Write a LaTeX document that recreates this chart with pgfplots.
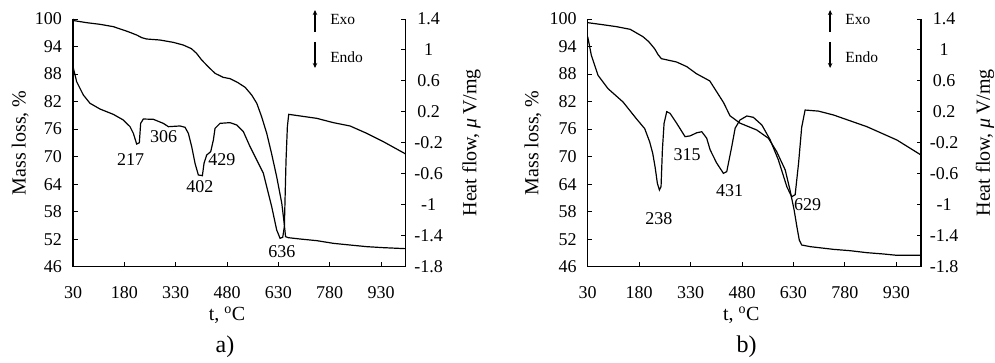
\documentclass[border=0pt]{standalone}
\usepackage{fontspec}
\setmainfont{Liberation Serif}
\usepackage{pgfplots}
\pgfplotsset{compat=1.18}
\usetikzlibrary{arrows.meta}
\tikzset{
  peak/.style={font=\fontsize{18}{20}\selectfont, inner sep=0pt},
  ee/.style={font=\fontsize{15.5}{18}\selectfont, inner sep=0pt, anchor=west},
  ar/.style={-{Stealth[length=5pt,width=4.5pt]}, line width=1.3pt, black},
  curve/.style={black, line width=1.2pt}
}
\begin{document}
\begin{tikzpicture}[x=1pt,y=1pt]
\useasboundingbox (0,0) rectangle (995,362);
\pgfplotsset{
  base/.style={scale only axis, height=247.7pt, xmin=30, xmax=1002, clip=false,
    tick align=inside, major tick length=4.5pt,
    axis line style={line width=1.1pt, black}, tick style={line width=1pt, black},
    /pgf/number format/assume math mode=true,
    ticklabel style={font=\fontsize{18}{20}\selectfont, inner sep=0pt},
    label style={font=\fontsize{20}{24}\selectfont}},
  tgax/.style={base, axis x line*=bottom, axis y line*=left,
    ymin=46, ymax=100, ytick={46,52,58,64,70,76,82,88,94,100},
    xtick={30,180,330,480,630,780,930},
    xticklabel style={anchor=north, yshift=-20pt},
    yticklabel style={anchor=east, xshift=-11pt},
    ylabel={Mass loss, \%}, xlabel={t, \textsuperscript{o}C}},
  dtaax/.style={base, axis x line=none, axis y line*=right,
    ymin=-1.8, ymax=1.4, ytick={-1.8,-1.4,-1,-0.6,-0.2,0.2,0.6,1,1.4},
    yticklabels={-1.8,-1.4,-1,-0.6,-0.2,0.2,0.6,1,1.4},
    yticklabel style={anchor=center, xshift=23pt},
    ylabel={Heat flow, \textit{μ}\,V/mg}}
}
% ---------------- panel a ----------------
\begin{axis}[tgax, width=332.7pt, at={(73pt,95.3pt)}, anchor=south west,
  ylabel style={at={(axis description cs:-0.159,0.5)}, anchor=center},
  xlabel style={at={(axis description cs:0.463,-0.195)}, anchor=center}]
\addplot[curve, mark=none] coordinates {
(30,100.0)(33,99.64)(70,99.20)(109,98.84)(148,98.33)(191,97.24)(216,96.51)(231,95.93)
(245,95.64)(284,95.42)(323,94.91)(352,94.33)(376,93.53)(391,92.51)(406,91.06)(425,89.61)
(445,88.15)(469,87.28)(489,86.99)(512,86.12)(533,85.10)(552,83.43)(567,81.61)(581,78.71)
(596,75.07)(610,70.71)(625,65.63)(640,59.81)(647,55.45)(651,52.55)(659,52.33)(693,52.04)
(742,51.68)(791,51.09)(839,50.73)(888,50.37)(937,50.15)(1002,49.93)};
\node[peak] at (axis description cs:0.457,-0.323) {\fontsize{24}{28}\selectfont a)};
\end{axis}
\begin{axis}[dtaax, width=332.7pt, at={(73pt,95.3pt)}, anchor=south west,
  ylabel style={at={(axis description cs:1.198,0.5)}, anchor=center}]
\addplot[curve, mark=none] coordinates {
(30,0.784)(40.7,0.590)(60.2,0.418)(79.7,0.311)(108.9,0.237)(147.9,0.168)(177.1,0.095)
(196.6,0.009)(206.3,-0.077)(216.0,-0.215)(223.8,-0.198)(227.7,0.052)(235.5,0.108)
(264.7,0.104)(293.9,0.052)(308.6,0.009)(342.7,0.018)(357.3,0.001)(367.0,-0.077)
(376.8,-0.249)(386.5,-0.464)(396.2,-0.615)(408.0,-0.624)(412.8,-0.464)(420.6,-0.357)
(432.3,-0.314)(440.1,-0.163)(445.0,-0.012)(459.5,0.052)(488.8,0.061)(508.2,0.031)
(527.7,-0.055)(547.2,-0.249)(566.7,-0.421)(586.2,-0.594)(595.9,-0.766)(610.5,-1.024)
(625.1,-1.326)(634.9,-1.433)(642.7,-1.420)(647.5,-1.283)(652.4,-0.421)(656.3,0.009)
(660.2,0.168)(673.8,0.160)(741.9,0.117)(790.7,0.061)(839.4,0.018)(888.1,-0.077)
(936.8,-0.185)(1002,-0.344)};
\node[peak] at (axis cs:198,-0.411) {217};
\node[peak] at (axis cs:295,-0.124) {306};
\node[peak] at (axis cs:401,-0.766) {402};
\node[peak] at (axis cs:465,-0.418) {429};
\node[peak] at (axis cs:640,-1.606) {636};
\draw[ar] (axis cs:737,1.232) -- (axis cs:737,1.516);
\draw[ar] (axis cs:737,1.103) -- (axis cs:737,0.767);
\node[ee] at (axis cs:781,1.40) {Exo};
\node[ee] at (axis cs:781,0.91) {Endo};
\end{axis}
% ---------------- panel b ----------------
\begin{axis}[tgax, width=333.3pt, at={(587.7pt,95.3pt)}, anchor=south west,
  ylabel style={at={(axis description cs:-0.164,0.5)}, anchor=center},
  xlabel style={at={(axis description cs:0.461,-0.195)}, anchor=center}]
\addplot[curve, mark=none] coordinates {
(30,99.20)(66,98.84)(114,98.33)(154,97.75)(191,96.15)(208,95.06)(225,93.53)(236,92.15)
(245,91.35)(289,90.63)(319,89.61)(347,88.08)(386,86.5)(426,81.8)(445,78.9)(474,77.3)
(523,75.8)(557,74.0)(581,71.1)(606,67.1)(620,62.7)(632,58.36)
(640,54.73)(647,51.82)(654,50.73)(679,50.37)(747,49.78)(795,49.49)(844,49.06)(893,48.77)
(932,48.48)(1002,48.48)};
\node[peak] at (axis description cs:0.477,-0.323) {\fontsize{24}{28}\selectfont b)};
\end{axis}
\begin{axis}[dtaax, width=333.3pt, at={(587.7pt,95.3pt)}, anchor=south west,
  ylabel style={at={(axis description cs:1.192,0.5)}, anchor=center}]
\addplot[curve, mark=none] coordinates {
(30,1.172)(40.6,0.931)(60.1,0.672)(89.3,0.500)(133.0,0.328)(171.9,0.112)(196.3,-0.017)
(210.8,-0.189)(219.6,-0.335)(226.4,-0.508)(233.2,-0.723)(239.1,-0.809)(243.9,-0.766)
(247.8,-0.292)(252.7,0.052)(260.5,0.203)(270.2,0.181)(289.6,0.052)(313.9,-0.120)
(328.5,-0.110)(348.0,-0.070)(362.6,-0.056)(377,-0.14)(387,-0.29)(406,-0.46)
(425.8,-0.594)(435.5,-0.572)(450,-0.25)(460,-0.01)(474,0.095)(494,0.147)
(513,0.13)(538,0.03)(562,-0.16)(586,-0.42)(611,-0.77)(625,-0.896)
(635,-0.87)(645,-0.46)(654,0.0)(664,0.224)
(703,0.21)(746.8,0.160)(844.1,0.009)(931.6,-0.163)(1002,-0.357)};
\node[peak] at (axis cs:237.5,-1.181) {238};
\node[peak] at (axis cs:320,-0.347) {315};
\node[peak] at (axis cs:444,-0.813) {431};
\node[peak] at (axis cs:671,-1.003) {629};
\draw[ar] (axis cs:737,1.232) -- (axis cs:737,1.516);
\draw[ar] (axis cs:737,1.103) -- (axis cs:737,0.767);
\node[ee] at (axis cs:781,1.40) {Exo};
\node[ee] at (axis cs:781,0.91) {Endo};
\end{axis}
\end{tikzpicture}
\end{document}
